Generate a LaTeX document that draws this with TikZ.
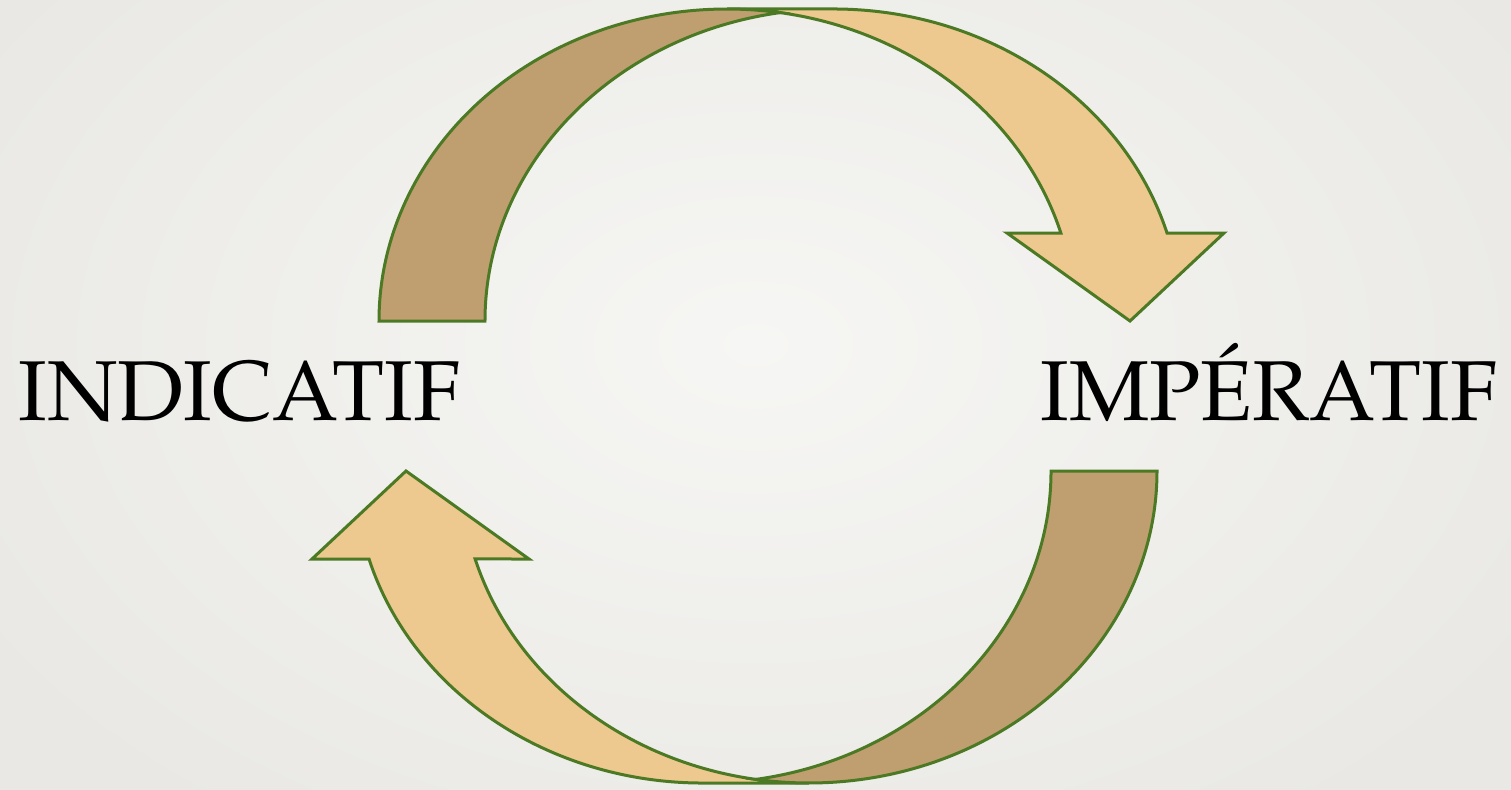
\documentclass[tikz,border=0pt]{standalone}
\usepackage[T1,TU]{fontenc}
\definecolor{arrowgreen}{RGB}{76,122,36}
\definecolor{darkfill}{RGB}{191,159,112}
\definecolor{lightfill}{RGB}{237,201,143}
\definecolor{bginner}{RGB}{246,246,244}
\definecolor{bgouter}{RGB}{233,232,228}
\newcommand\palfont{\fontencoding{T1}\fontfamily{ppl}\fontsize{85}{100}\selectfont}
\newcommand\ribbonshape{%
  \path[lightpart] (727,9)
    arc[start angle=270, end angle=343.62, x radius=348, y radius=312]
    -- (1007,233) -- (1130,321) -- (1224,233) -- (1167,233)
    arc[start angle=343.62, end angle=270, x radius=348, y radius=312]
    -- cycle;
  \path[darkpart] (379,321)
    arc[start angle=180, end angle=278.76, x radius=348, y radius=312]
    arc[start angle=261.24, end angle=180, x radius=348, y radius=312]
    -- cycle;
}
\begin{document}
\begin{tikzpicture}[x=1pt,y=-1pt,
  outl/.style={draw=arrowgreen, line width=3pt, line join=miter},
  darkpart/.style={outl, fill=darkfill},
  lightpart/.style={outl, fill=lightfill},
  lbl/.style={font=\palfont, text=black, inner sep=0pt, anchor=base}]
\useasboundingbox (0,0) rectangle (1511,789);
\shade[inner color=bginner, outer color=bgouter] (-150,-250) rectangle (1661,939);
% top arrow: INDICATIF -> IMPERATIF
\begin{scope}
  \ribbonshape
\end{scope}
% bottom arrow: IMPERATIF -> INDICATIF
\begin{scope}[rotate around={180:(768,396)}]
  \ribbonshape
\end{scope}
\node[lbl] (indic) at (239.5,420.7) {INDICATIF};
\node[lbl] (imper) at (1269,420.7) {IMP\'ERATIF};
\end{tikzpicture}
\end{document}
